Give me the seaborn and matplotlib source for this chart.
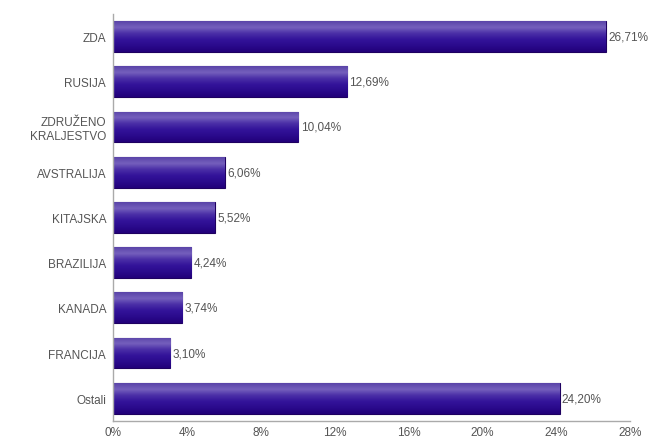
import numpy as np
import pandas as pd
import seaborn as sns
import matplotlib.pyplot as plt
from matplotlib.colors import LinearSegmentedColormap

# data
countries = ["ZDA", "RUSIJA", "ZDRUŽENO\nKRALJESTVO", "AVSTRALIJA", "KITAJSKA",
             "BRAZILIJA", "KANADA", "FRANCIJA", "Ostali"]
shares = [26.71, 12.69, 10.04, 6.06, 5.52, 4.24, 3.74, 3.10, 24.20]
x_ticks = [0, 4, 8, 12, 16, 20, 24, 28]

df = pd.DataFrame({"country": countries, "share": shares})

sns.set_style("white")
plt.rcParams['font.family'] = ['Liberation Sans', 'DejaVu Sans']

fig = plt.figure(figsize=(6.5, 4.39), dpi=100)
ax = fig.add_axes([0.174, 0.039, 0.795, 0.927])

sns.barplot(data=df, x="share", y="country", orient="h", width=0.68,
            color="#3a1a9a", edgecolor="#1e0060", linewidth=0.8, ax=ax)

# vertical gradient on each bar (lighter top, dark bottom)
grad = LinearSegmentedColormap.from_list(
    "bar", ["#5a44a8", "#7560bd", "#4a2ea6", "#33139a", "#2a0a8c", "#22007a"])
g = np.linspace(0, 1, 64).reshape(-1, 1)
for p in ax.patches:
    x0, y0 = p.get_x(), p.get_y()
    w, h = p.get_width(), p.get_height()
    im = ax.imshow(g, cmap=grad, aspect="auto", extent=[x0, x0 + w, y0 + h, y0],
                   zorder=p.get_zorder() + 0.1, interpolation="bicubic")
    im.set_clip_path(p)
    ax.text(x0 + w + 0.12, y0 + h / 2, f"{w:.2f}%".replace(".", ","),
            va="center", ha="left", fontsize=8.5, color="#555555")

ax.set_xlim(0, 28)
ax.set_ylim(8.5, -0.5)
ax.set_xticks(x_ticks)
ax.set_xticklabels([f"{t}%" for t in x_ticks])
ax.set_xlabel("")
ax.set_ylabel("")
ax.tick_params(axis="both", length=0, labelsize=8.5, labelcolor="#555555", pad=5)
ax.tick_params(axis="x", pad=4)

for s in ["top", "right"]:
    ax.spines[s].set_visible(False)
for s in ["left", "bottom"]:
    ax.spines[s].set_color("#aaaaaa")
    ax.spines[s].set_linewidth(1)

fig.savefig("out.png", dpi=100)
